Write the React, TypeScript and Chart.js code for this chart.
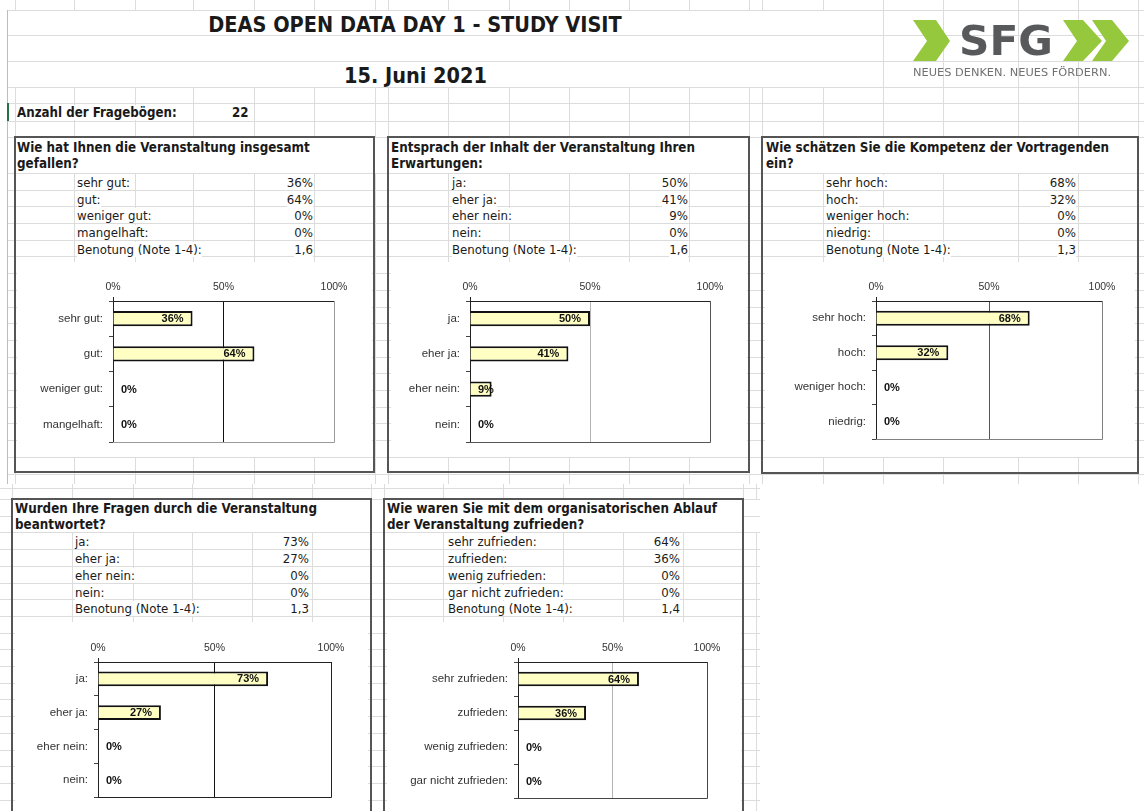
import React, { useEffect, useRef } from 'react';
import { Chart, registerables } from 'chart.js';

Chart.register(...registerables);

// ---------------- data ----------------
const MAIN_TITLE = 'DEAS OPEN DATA DAY 1 - STUDY VISIT';
const MAIN_DATE = '15. Juni 2021';
const COUNT_LABEL = 'Anzahl der Fragebögen:';
const COUNT_VALUE = 22;
const GRADE_LABEL = 'Benotung (Note 1-4):';
const LOGO_TEXT = 'SFG';
const LOGO_TAGLINE = 'NEUES DENKEN. NEUES FÖRDERN.';

const X_TICK_VALUES = [0, 50, 100];
const X_TICK_LABELS = ['0%', '50%', '100%'];

const Q1_TITLE = ['Wie hat Ihnen die Veranstaltung insgesamt', 'gefallen?'];
const Q1_CATEGORIES = ['sehr gut:', 'gut:', 'weniger gut:', 'mangelhaft:'];
const Q1_VALUES = [36, 64, 0, 0];
const Q1_GRADE = 1.6;

const Q2_TITLE = ['Entsprach der Inhalt der Veranstaltung Ihren', 'Erwartungen:'];
const Q2_CATEGORIES = ['ja:', 'eher ja:', 'eher nein:', 'nein:'];
const Q2_VALUES = [50, 41, 9, 0];
const Q2_GRADE = 1.6;

const Q3_TITLE = ['Wie schätzen Sie die Kompetenz der Vortragenden', 'ein?'];
const Q3_CATEGORIES = ['sehr hoch:', 'hoch:', 'weniger hoch:', 'niedrig:'];
const Q3_VALUES = [68, 32, 0, 0];
const Q3_GRADE = 1.3;

const Q4_TITLE = ['Wurden Ihre Fragen durch die Veranstaltung', 'beantwortet?'];
const Q4_CATEGORIES = ['ja:', 'eher ja:', 'eher nein:', 'nein:'];
const Q4_VALUES = [73, 27, 0, 0];
const Q4_GRADE = 1.3;

const Q5_TITLE = ['Wie waren Sie mit dem organisatorischen Ablauf', 'der Veranstaltung zufrieden?'];
const Q5_CATEGORIES = ['sehr zufrieden:', 'zufrieden:', 'wenig zufrieden:', 'gar nicht zufrieden:'];
const Q5_VALUES = [64, 36, 0, 0];
const Q5_GRADE = 1.4;

// ---------------- layout / style ----------------
const SHEET_FONT = '"DejaVu Sans Condensed", "DejaVu Sans", sans-serif';
const CHART_FONT = '"Liberation Sans", Arial, sans-serif';
const GRID = '#dcdcdc';
const ROW_STEP = 16.7;

const TOP_COLS = [15, 74, 135, 193, 254, 314, 375, 388, 448, 509, 569, 629, 689, 749, 762, 823, 883, 943, 1018, 1078, 1138];
const BOT_COLS = [12, 72, 133, 192, 252, 312, 371, 384, 443, 503, 563, 623, 683, 743, 756];

const PANELS = [
  { title: Q1_TITLE, cats: Q1_CATEGORIES, vals: Q1_VALUES, grade: Q1_GRADE,
    box: [15, 137, 374, 472], titleX: 17, titleTop: 139.5, labelX: 77, valueRight: 313, rowTop: 173,
    chart: [17, 262, 372, 457], plot: [113, 301, 334, 442], grid: '#111', frame: '#9a9a9a' },
  { title: Q2_TITLE, cats: Q2_CATEGORIES, vals: Q2_VALUES, grade: Q2_GRADE,
    box: [388, 137, 749, 472], titleX: 391, titleTop: 139.5, labelX: 452, valueRight: 688, rowTop: 173,
    chart: [391, 262, 747, 457], plot: [470, 301, 710, 442], grid: '#b4b4b4', frame: '#555' },
  { title: Q3_TITLE, cats: Q3_CATEGORIES, vals: Q3_VALUES, grade: Q3_GRADE,
    box: [762, 137, 1138, 473], titleX: 766, titleTop: 139.5, labelX: 826, valueRight: 1076, rowTop: 173,
    chart: [765, 262, 1135, 457], plot: [876, 301, 1102, 439], grid: '#555', frame: '#808080' },
  { title: Q4_TITLE, cats: Q4_CATEGORIES, vals: Q4_VALUES, grade: Q4_GRADE,
    box: [12, 499, 371, 840], titleX: 15, titleTop: 500.5, labelX: 75, valueRight: 309, rowTop: 532.4,
    chart: [15, 622, 368, 811], plot: [98, 662, 331, 797], grid: '#111', frame: '#222' },
  { title: Q5_TITLE, cats: Q5_CATEGORIES, vals: Q5_VALUES, grade: Q5_GRADE,
    box: [384, 499, 743, 840], titleX: 387, titleTop: 500.5, labelX: 448, valueRight: 680, rowTop: 532.4,
    chart: [387, 622, 741, 811], plot: [518, 662, 707, 798], grid: '#b4b4b4', frame: '#444' },
];

type Panel = typeof PANELS[number];

function BarChart({ p }: { p: Panel }) {
  const ref = useRef<HTMLCanvasElement>(null);
  const [cl, ct, cr, cb] = p.chart;
  const [pl, pt, pr, pb] = p.plot;
  useEffect(() => {
    const framePlugin = {
      id: 'frame',
      beforeDatasetsDraw(chart: any) {
        const { ctx, chartArea: a } = chart;
        ctx.save();
        ctx.strokeStyle = p.frame;
        ctx.lineWidth = 1;
        ctx.beginPath();
        const yb = Math.round(a.bottom) + 0.5;
        const xr = Math.round(a.right) + 0.5;
        ctx.moveTo(a.left, yb);
        ctx.lineTo(xr, yb);
        ctx.lineTo(xr, a.top);
        ctx.stroke();
        ctx.restore();
      },
    };
    const labelPlugin = {
      id: 'valueLabels',
      afterDatasetsDraw(chart: any) {
        const { ctx } = chart;
        const meta = chart.getDatasetMeta(0);
        const x0 = chart.scales.x.getPixelForValue(0);
        ctx.save();
        ctx.font = `bold 11px ${CHART_FONT}`;
        ctx.fillStyle = '#111';
        ctx.textBaseline = 'middle';
        ctx.textAlign = 'left';
        meta.data.forEach((bar: any, i: number) => {
          const v = chart.data.datasets[0].data[i];
          const text = `${v}%`;
          const w = ctx.measureText(text).width;
          const left = Math.max(bar.x - 9 - w, x0 + 8);
          ctx.fillText(text, left, bar.y + 0.5);
        });
        ctx.restore();
      },
    };
    const chart = new Chart(ref.current as HTMLCanvasElement, {
      type: 'bar',
      data: {
        labels: p.cats,
        datasets: [{
          data: p.vals,
          backgroundColor: '#ffffc4',
          borderColor: '#111',
          borderWidth: 2,
          barPercentage: 0.43,
          categoryPercentage: 1,
        }],
      },
      options: {
        indexAxis: 'y',
        responsive: false,
        animation: false,
        layout: { padding: { left: 0, top: 0, right: cr - pr, bottom: cb - pb } },
        plugins: { legend: { display: false }, tooltip: { enabled: false } },
        scales: {
          x: {
            position: 'top',
            min: 0,
            max: 100,
            afterBuildTicks: (s: any) => { s.ticks = X_TICK_VALUES.map((v) => ({ value: v })); },
            afterFit: (s: any) => { s.height = pt - ct; s.paddingLeft = 0; s.paddingRight = 0; },
            ticks: {
              callback: (_v: any, i: number) => X_TICK_LABELS[i],
              font: { family: CHART_FONT, size: 10.5 },
              color: '#333',
              padding: 4,
              maxRotation: 0,
              autoSkip: false,
            },
            grid: {
              color: (c: any) => (c.tick && c.tick.value === 50 ? p.grid : 'rgba(0,0,0,0)'),
              tickColor: (c: any) => (c.tick && c.tick.value === 0 ? '#222' : 'rgba(0,0,0,0)'),
              tickLength: 4,
              lineWidth: 1,
            },
            border: { display: true, color: '#222', width: 1 },
          },
          y: {
            afterFit: (s: any) => { s.width = pl - cl; s.paddingTop = 0; s.paddingBottom = 0; },
            ticks: {
              font: { family: CHART_FONT, size: 11.5 },
              color: '#333',
              padding: 6,
              autoSkip: false,
            },
            grid: { offset: true, drawOnChartArea: false, tickLength: 4, color: '#444' },
            border: { display: true, color: '#222', width: 1 },
          },
        },
      },
      plugins: [framePlugin, labelPlugin],
    } as any);
    return () => chart.destroy();
  }, []);
  return (
    <canvas
      ref={ref}
      width={cr - cl}
      height={cb - ct}
      style={{ position: 'absolute', left: cl, top: ct, width: cr - cl, height: cb - ct, background: '#fff' }}
    />
  );
}

function Text({ x, y, h, text, bold, size, right, center, w }: any) {
  const style: any = {
    position: 'absolute',
    top: y,
    height: h,
    lineHeight: `${h}px`,
    whiteSpace: 'nowrap',
    fontFamily: SHEET_FONT,
    fontSize: size,
    fontWeight: bold ? 'bold' : 'normal',
    color: '#1a1a1a',
  };
  if (right) { style.left = x - 120; style.width = 120; style.textAlign = 'right'; }
  else if (center) { style.left = x - w / 2; style.width = w; style.textAlign = 'center'; }
  else { style.left = x; }
  return (
    <div style={style}>
      <span style={{ background: center ? 'transparent' : '#fff' }}>{text}</span>
    </div>
  );
}

function Grid() {
  const els: any[] = [];
  let k = 0;
  const v = (x: number, y1: number, y2: number) =>
    els.push(<line key={k++} x1={x + 0.5} x2={x + 0.5} y1={y1} y2={y2} stroke={GRID} strokeWidth={1} />);
  const h = (y: number, x1: number, x2: number) =>
    els.push(<line key={k++} x1={x1} x2={x2} y1={Math.round(y) + 0.5} y2={Math.round(y) + 0.5} stroke={GRID} strokeWidth={1} />);
  // top part
  TOP_COLS.forEach((x) => v(x, 0, 10));
  TOP_COLS.filter((x) => x >= 883).forEach((x) => v(x, 10, 87));
  TOP_COLS.forEach((x) => v(x, 87, 137));
  TOP_COLS.forEach((x) => v(x, 173, 484));
  [10, 35, 61, 87, 103, 121, 137].forEach((y) => h(y, 7, 1144));
  for (let y = 173; y < 484; y += ROW_STEP) h(y, 7, 1144);
  // bottom part
  BOT_COLS.forEach((x) => v(x, 484, 499));
  BOT_COLS.forEach((x) => v(x, 532, 811));
  h(488, 0, 760);
  h(499, 0, 760);
  h(515.7, 0, 12);
  h(515.7, 743, 760);
  for (let y = 532.4; y < 811; y += ROW_STEP) h(y, 0, 760);
  return (
    <svg width={1144} height={811} style={{ position: 'absolute', left: 0, top: 0 }} shapeRendering="crispEdges">
      {els}
      <line x1={7.5} x2={7.5} y1={10} y2={484} stroke="#bdbdbd" strokeWidth={1.5} />
      <line x1={7.5} x2={7.5} y1={103} y2={121} stroke="#217346" strokeWidth={2} />
    </svg>
  );
}

function Borders() {
  return (
    <svg width={1144} height={811} style={{ position: 'absolute', left: 0, top: 0, pointerEvents: 'none' }}>
      {PANELS.map((p, i) => (
        <rect key={i} x={p.box[0]} y={p.box[1]} width={p.box[2] - p.box[0]} height={p.box[3] - p.box[1]}
          fill="none" stroke="#555" strokeWidth={1.8} shapeRendering="crispEdges" />
      ))}
      {/* logo */}
      <polygon points="913,20 936,20 950,41 936,61 913,61 927,41" fill="#95c83d" />
      <polygon points="1063,20 1083,20 1102,41 1083,61 1063,61 1077,41" fill="#95c83d" />
      <polygon points="1092,20 1112,20 1129,41 1112,61 1092,61 1106,41" fill="#95c83d" />
      <text x={959} y={55} fontFamily='"DejaVu Sans", sans-serif' fontWeight="bold" fontSize={41}
        fill="#58595b" textLength={94} lengthAdjust="spacingAndGlyphs">{LOGO_TEXT}</text>
      <text x={913} y={76} fontFamily='"DejaVu Sans", sans-serif' fontSize={10.5}
        fill="#707173" textLength={198} lengthAdjust="spacingAndGlyphs">{LOGO_TAGLINE}</text>
    </svg>
  );
}

function PanelTexts({ p }: { p: Panel }) {
  const rows = [
    ...p.cats.map((c, i) => [c, `${p.vals[i]}%`]),
    [GRADE_LABEL, p.grade.toFixed(1).replace('.', ',')],
  ];
  const lh = 16.5;
  return (
    <>
      {p.title.map((t, i) => (
        <Text key={`t${i}`} x={p.titleX} y={p.titleTop + i * lh} h={lh} text={t} bold size={13.3} />
      ))}
      {rows.map((r, i) => (
        <React.Fragment key={`r${i}`}>
          <Text x={p.labelX} y={p.rowTop + i * ROW_STEP + 2} h={15} text={r[0]} size={13.1} />
          <Text x={p.valueRight} y={p.rowTop + i * ROW_STEP + 2} h={15} text={r[1]} size={13.1} right />
        </React.Fragment>
      ))}
    </>
  );
}

export default function App() {
  return (
    <div style={{ position: 'absolute', left: 0, top: 0, width: 1144, height: 811, background: '#fff', overflow: 'hidden' }}>
      <Grid />
      <Text x={415} y={13} h={24} w={600} center bold size={21.5} text={MAIN_TITLE} />
      <Text x={415.5} y={64} h={24} w={400} center bold size={21.5} text={MAIN_DATE} />
      <Text x={17} y={105} h={16} bold size={13.2} text={COUNT_LABEL} />
      <Text x={232} y={105} h={16} bold size={13.2} text={String(COUNT_VALUE)} />
      {PANELS.map((p, i) => <PanelTexts key={i} p={p} />)}
      {PANELS.map((p, i) => <BarChart key={i} p={p} />)}
      <Borders />
    </div>
  );
}
